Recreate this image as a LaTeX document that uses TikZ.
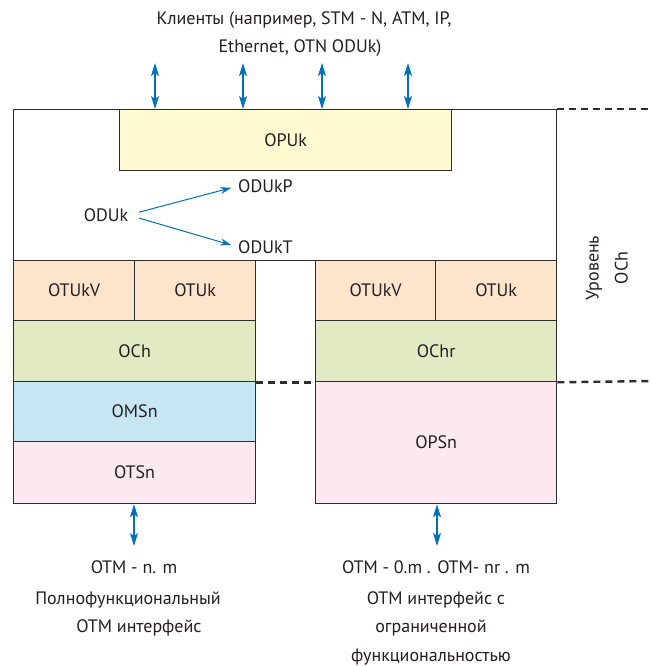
\documentclass[tikz,border=0pt]{standalone}
\usepackage{fontspec}
\setmainfont{PT Sans}
\usepackage{xcolor}
\usetikzlibrary{arrows.meta,positioning}

\definecolor{opukcol}{RGB}{255,250,207}
\definecolor{otucol}{RGB}{253,228,205}
\definecolor{ochcol}{RGB}{225,234,195}
\definecolor{omscol}{RGB}{198,230,243}
\definecolor{otscol}{RGB}{252,232,241}
\definecolor{arrcol}{RGB}{0,114,188}
\definecolor{linecol}{RGB}{45,45,45}
\definecolor{txtcol}{RGB}{35,31,32}

\tikzset{
    layer/.style={draw=linecol, line width=1.3pt, anchor=north west, inner sep=0pt,
        text=txtcol, font=\fontsize{18}{20}\selectfont},
    txt/.style={text=txtcol, inner sep=0pt, font=\fontsize{18}{20}\selectfont},
    link/.style={arrcol, line width=1.1pt, {Stealth[length=13pt,width=8pt,inset=3pt]}-{Stealth[length=13pt,width=8pt,inset=3pt]}},
    split/.style={arrcol, line width=1pt, -{Stealth[length=11pt,width=7pt]}},
    lvl/.style={linecol, line width=2.4pt, dash pattern=on 7pt off 5pt}
}

\begin{document}
\begin{tikzpicture}[x=1pt, y=-1pt]
    \useasboundingbox (0,0) rectangle (652,666);

    % Clients
    \node[txt] (cli1) at (304,20) {Клиенты (например, STM - N, ATM, IP,};
    \node[txt] (cli2) at (300,48) {Ethernet, OTN ODUk)};

    % ODUk frame and OPUk
    \node[layer, minimum width=543pt, minimum height=151pt] (frame) at (13,109) {};
    \node[layer, fill=opukcol, minimum width=332pt, minimum height=61pt] (opuk) at (119,109) {OPUk};

    \node[txt] (oduk) at (106,215) {ODUk};
    \node[txt, anchor=west] (odukp) at (238,186) {ODUkP};
    \node[txt, anchor=west] (odukt) at (238,247) {ODUkT};
    \draw[split, shorten <=11pt, shorten >=7pt] (oduk.east) -- (odukp.west);
    \draw[split, shorten <=11pt, shorten >=7pt] (oduk.east) -- (odukt.west);

    % Left stack (full functionality)
    \node[layer, fill=otucol, minimum width=121pt, minimum height=60pt] (otukvL) at (13,260) {OTUkV};
    \node[layer, fill=otucol, minimum width=121pt, minimum height=60pt] (otukL) at (134,260) {OTUk};
    \node[layer, fill=ochcol, minimum width=242pt, minimum height=61pt] (ochL) at (13,320) {OCh};
    \node[layer, fill=omscol, minimum width=242pt, minimum height=60pt] (omsn) at (13,381) {OMSn};
    \node[layer, fill=otscol, minimum width=242pt, minimum height=62pt] (otsn) at (13,441) {OTSn};

    % Right stack (reduced functionality)
    \node[layer, fill=otucol, minimum width=120pt, minimum height=60pt] (otukvR) at (315,260) {OTUkV};
    \node[layer, fill=otucol, minimum width=121pt, minimum height=60pt] (otukR) at (435,260) {OTUk};
    \node[layer, fill=ochcol, minimum width=241pt, minimum height=61pt] (ochR) at (315,320) {OChr};
    \node[layer, fill=otscol, minimum width=241pt, minimum height=122pt] (opsn) at (315,381) {OPSn};

    % OCh level borders
    \coordinate (lvltop) at (652,109);
    \coordinate (lvlbot) at (652,381);
    \draw[lvl] (frame.north east) -- (lvltop);
    \draw[lvl] (ochL.south east) -- (ochR.south west);
    \draw[lvl] (ochR.south east) -- (lvlbot);
    \node[txt, rotate=90, align=center, font=\fontsize{18}{29}\selectfont] (lvlname) at (607,268) {Уровень\\OCh};

    % Client arrows
    \foreach \x in {155,243,322,408} {
        \coordinate (c\x) at (\x,63);
        \draw[link] (c\x) -- (c\x |- opuk.north);
    }

    % OTM interfaces
    \coordinate (otmL) at (134,546);
    \coordinate (otmR) at (437,546);
    \draw[link] (otmL |- otsn.south) -- (otmL);
    \draw[link] (otmR |- opsn.south) -- (otmR);

    \node[txt] (nameL) at (134,567) {OTM - n. m};
    \node[txt] (descL1) at (128,600) {Полнофункциональный};
    \node[txt] (descL2) at (139,628) {OTM интерфейс};

    \node[txt] (nameR) at (436,567) {OTM - 0.m . OTM- nr . m};
    \node[txt] (descR1) at (436,600) {OTM интерфейс с};
    \node[txt] (descR2) at (431,628) {ограниченной};
    \node[txt] (descR3) at (431,657) {функциональностью};
\end{tikzpicture}
\end{document}
